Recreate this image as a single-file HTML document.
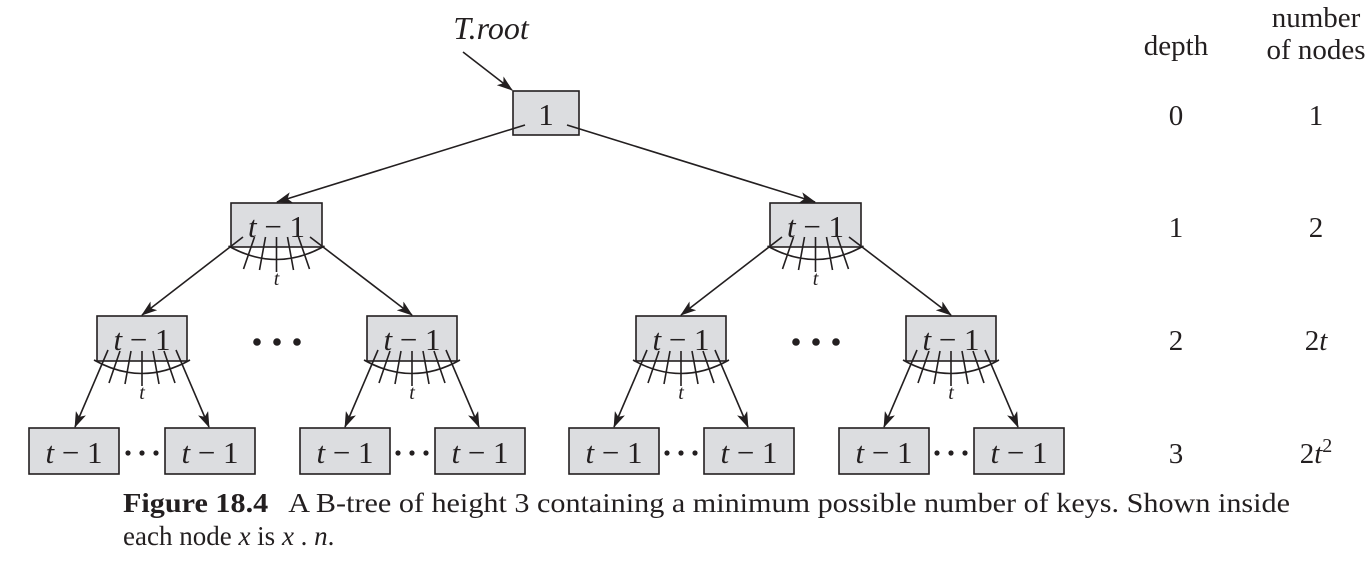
<!DOCTYPE html>
<html><head><meta charset="utf-8"><style>
body{margin:0;background:#fff;}
svg{display:block;font-family:"Liberation Serif",serif;}
.b{fill:#dcdde0;stroke:#231f20;stroke-width:1.6}
.l{stroke:#231f20;stroke-width:1.6;fill:none}
.n{font-size:31px;text-anchor:middle;fill:#231f20}
.i{font-style:italic}
</style></head><body>
<svg width="1372" height="565" viewBox="0 0 1372 565">
<defs>
<marker id="a" markerWidth="16" markerHeight="11" refX="15" refY="5.5" orient="auto" markerUnits="userSpaceOnUse">
<path d="M0,0 L16,5.5 L0,11 L4,5.5 z" fill="#231f20"/></marker>
<g id="f">
<path class="l" d="M-22,-10 L-33,22 M-11,-10 L-17,23 M0,-10 L0,25 M11,-10 L17,23 M22,-10 L33,22 M-48,-1 Q0,26 48,-1"/>
<text x="0" y="38" font-size="20" font-style="italic" text-anchor="middle" fill="#231f20">t</text>
</g>
</defs>
<text x="491" y="39" font-size="32" font-style="italic" text-anchor="middle" fill="#231f20">T.root</text>
<line class="l" x1="463" y1="52" x2="512" y2="90" marker-end="url(#a)"/>
<rect class="b" x="513" y="91" width="66" height="44"/>
<text class="n" x="546" y="125">1</text>
<line class="l" x1="525" y1="125" x2="277" y2="202" marker-end="url(#a)"/>
<line class="l" x1="567" y1="125" x2="815" y2="202" marker-end="url(#a)"/>
<g>
<rect class="b" x="231" y="203" width="91" height="44"/>
<text class="n" x="276.5" y="237"><tspan class="i">t</tspan> − 1</text>
<use href="#f" x="276.5" y="247"/>
<line class="l" x1="243" y1="237" x2="142" y2="315" marker-end="url(#a)"/>
<line class="l" x1="310" y1="237" x2="412" y2="315" marker-end="url(#a)"/>
<rect class="b" x="770" y="203" width="91" height="44"/>
<text class="n" x="815.5" y="237"><tspan class="i">t</tspan> − 1</text>
<use href="#f" x="815.5" y="247"/>
<line class="l" x1="782" y1="237" x2="681" y2="315" marker-end="url(#a)"/>
<line class="l" x1="849" y1="237" x2="951" y2="315" marker-end="url(#a)"/>
</g>
<g>
<rect class="b" x="97" y="316" width="90" height="45"/>
<text class="n" x="142" y="350"><tspan class="i">t</tspan> − 1</text>
<use href="#f" x="142" y="361"/>
<line class="l" x1="108" y1="350" x2="75" y2="427" marker-end="url(#a)"/>
<line class="l" x1="176" y1="350" x2="209" y2="427" marker-end="url(#a)"/>
<rect class="b" x="367" y="316" width="90" height="45"/>
<text class="n" x="412" y="350"><tspan class="i">t</tspan> − 1</text>
<use href="#f" x="412" y="361"/>
<line class="l" x1="378" y1="350" x2="345" y2="427" marker-end="url(#a)"/>
<line class="l" x1="446" y1="350" x2="479" y2="427" marker-end="url(#a)"/>
<rect class="b" x="636" y="316" width="90" height="45"/>
<text class="n" x="681" y="350"><tspan class="i">t</tspan> − 1</text>
<use href="#f" x="681" y="361"/>
<line class="l" x1="647" y1="350" x2="614" y2="427" marker-end="url(#a)"/>
<line class="l" x1="715" y1="350" x2="748" y2="427" marker-end="url(#a)"/>
<rect class="b" x="906" y="316" width="90" height="45"/>
<text class="n" x="951" y="350"><tspan class="i">t</tspan> − 1</text>
<use href="#f" x="951" y="361"/>
<line class="l" x1="917" y1="350" x2="884" y2="427" marker-end="url(#a)"/>
<line class="l" x1="985" y1="350" x2="1018" y2="427" marker-end="url(#a)"/>
<g fill="#231f20"><circle cx="257" cy="342" r="3.8"/><circle cx="277" cy="342" r="3.8"/><circle cx="297" cy="342" r="3.8"/>
<circle cx="796" cy="342" r="3.8"/><circle cx="816" cy="342" r="3.8"/><circle cx="836" cy="342" r="3.8"/></g>
</g>
<g>
<rect class="b" x="29" y="428" width="90" height="46"/><text class="n" x="74" y="463"><tspan class="i">t</tspan> − 1</text>
<rect class="b" x="165" y="428" width="90" height="46"/><text class="n" x="210" y="463"><tspan class="i">t</tspan> − 1</text>
<rect class="b" x="300" y="428" width="90" height="46"/><text class="n" x="345" y="463"><tspan class="i">t</tspan> − 1</text>
<rect class="b" x="435" y="428" width="90" height="46"/><text class="n" x="480" y="463"><tspan class="i">t</tspan> − 1</text>
<rect class="b" x="569" y="428" width="90" height="46"/><text class="n" x="614" y="463"><tspan class="i">t</tspan> − 1</text>
<rect class="b" x="704" y="428" width="90" height="46"/><text class="n" x="749" y="463"><tspan class="i">t</tspan> − 1</text>
<rect class="b" x="839" y="428" width="90" height="46"/><text class="n" x="884" y="463"><tspan class="i">t</tspan> − 1</text>
<rect class="b" x="974" y="428" width="90" height="46"/><text class="n" x="1019" y="463"><tspan class="i">t</tspan> − 1</text>
<g fill="#231f20">
<circle cx="128" cy="453" r="2.6"/><circle cx="142" cy="453" r="2.6"/><circle cx="156" cy="453" r="2.6"/>
<circle cx="398" cy="453" r="2.6"/><circle cx="412" cy="453" r="2.6"/><circle cx="426" cy="453" r="2.6"/>
<circle cx="667" cy="453" r="2.6"/><circle cx="681" cy="453" r="2.6"/><circle cx="695" cy="453" r="2.6"/>
<circle cx="937" cy="453" r="2.6"/><circle cx="951" cy="453" r="2.6"/><circle cx="965" cy="453" r="2.6"/>
</g>
</g>
<g font-size="29" text-anchor="middle" fill="#231f20">
<text x="1176" y="55">depth</text>
<text x="1316" y="27">number</text>
<text x="1316" y="59">of nodes</text>
<text x="1176" y="125">0</text><text x="1316" y="125">1</text>
<text x="1176" y="237">1</text><text x="1316" y="237">2</text>
<text x="1176" y="350">2</text><text x="1316" y="350">2<tspan font-style="italic">t</tspan></text>
<text x="1176" y="463">3</text><text x="1316" y="463">2<tspan font-style="italic">t</tspan><tspan font-size="20" dy="-11">2</tspan></text>
</g>
<g font-size="27" fill="#231f20">
<text x="123" y="512" textLength="1167" lengthAdjust="spacingAndGlyphs"><tspan font-weight="bold">Figure 18.4</tspan><tspan dx="18">A B-tree of height 3 containing a minimum possible number of keys. Shown inside</tspan></text>
<text x="123" y="545">each node <tspan font-style="italic">x</tspan> is <tspan font-style="italic">x</tspan> . <tspan font-style="italic">n</tspan>.</text>
</g>
</svg>
</body></html>
